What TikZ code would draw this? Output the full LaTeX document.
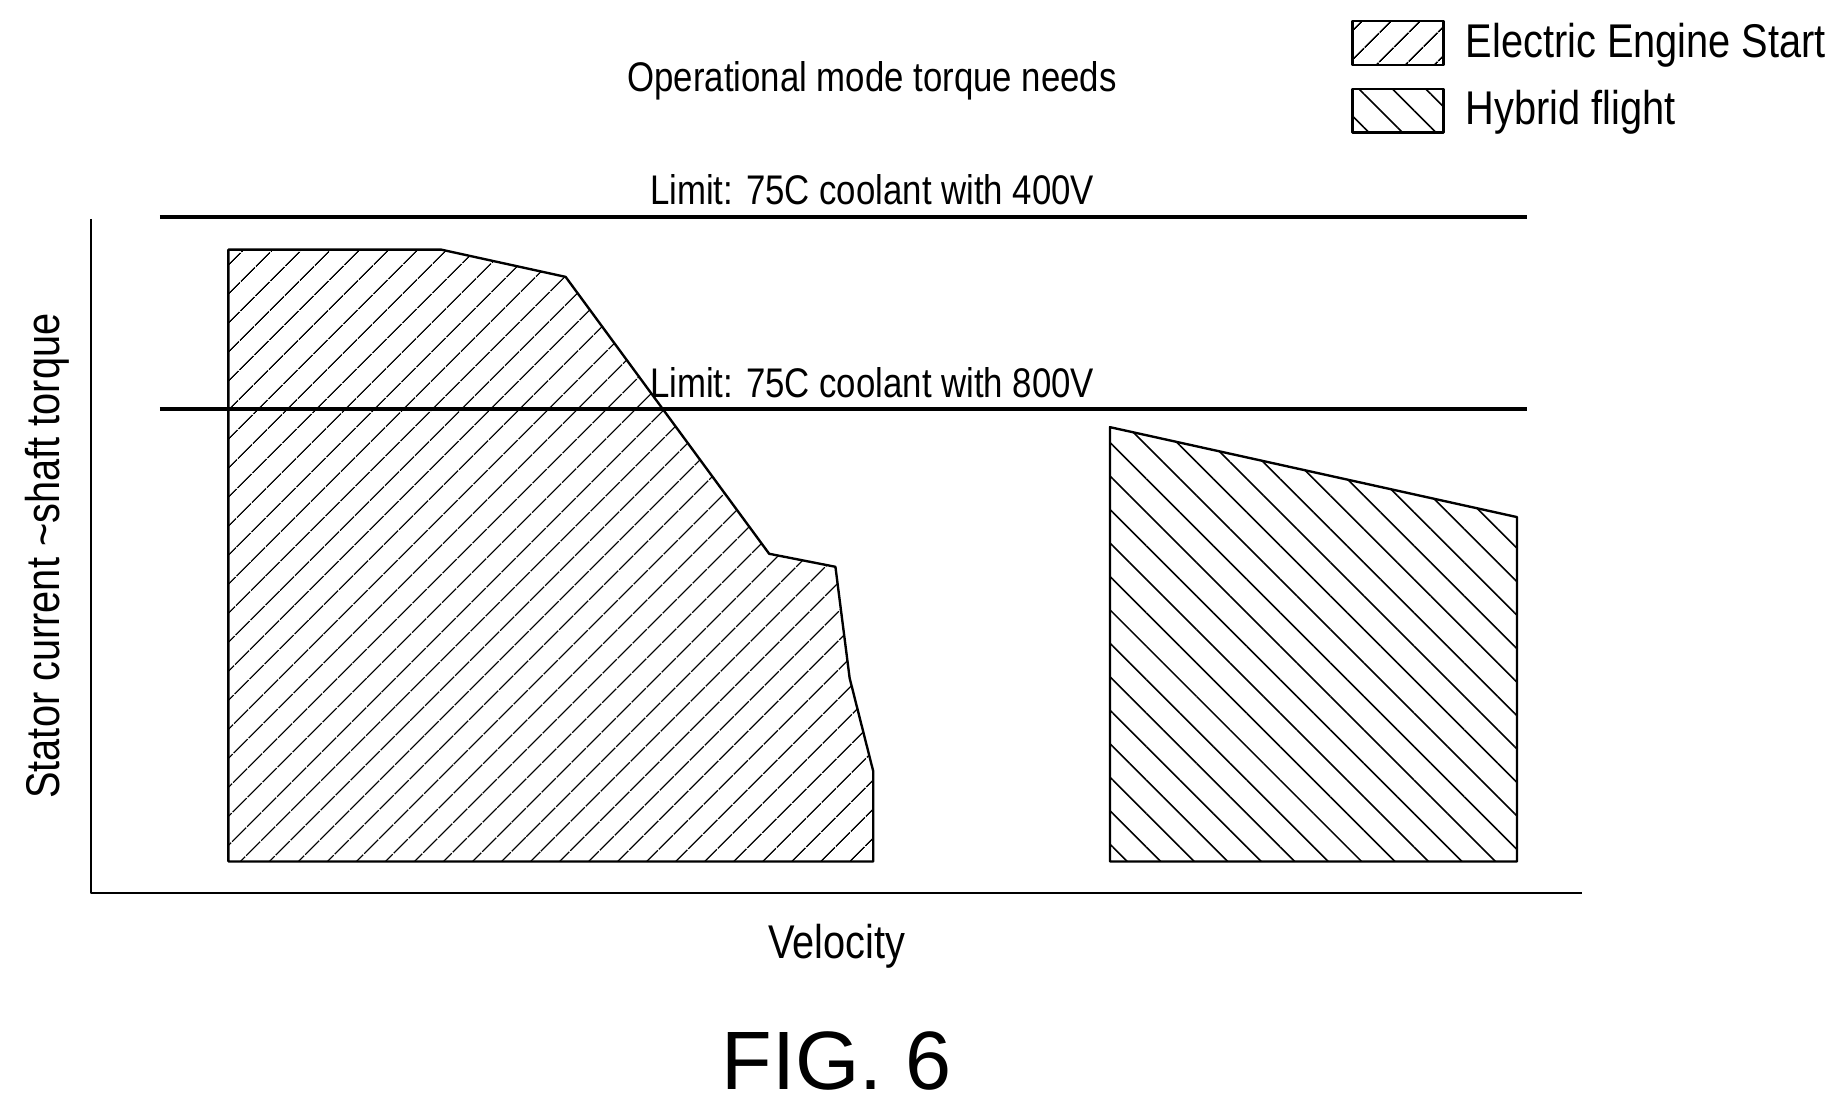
\documentclass[tikz,border=0pt]{standalone}
\usepackage{fontspec}
\setmainfont[FakeStretch=0.84]{Liberation Sans}
\newfontfamily\figfont{Liberation Sans}
\usetikzlibrary{patterns.meta}

\begin{document}
\begin{tikzpicture}[x=0.3pt, y=-0.3pt, line join=round,
      every node/.append style={font=\fontsize{10.5}{12}\selectfont, inner sep=0pt},
      limit/.style={line width=1pt},
      engine/.style={draw, line width=0.6pt, pattern={Lines[angle=45, distance=5.4pt, line width=0.4pt]}},
      hybrid/.style={draw, line width=0.6pt, pattern={Lines[angle=-45, distance=6pt, line width=0.4pt]}}]
    \useasboundingbox (0,0) rectangle (1560,935);
    \node (title) at (737,68) {Operational mode torque needs};
    % legend
    \draw[engine] (1143,18) rectangle (1220,55);
    \node (legEngine) [anchor=west, font=\fontsize{12}{14}\selectfont] at (1238,38) {Electric Engine Start};
    \draw[hybrid] (1143,75) rectangle (1220,112);
    \node (legHybrid) [anchor=west, font=\fontsize{12}{14}\selectfont] at (1238,95) {Hybrid flight};
    % axes
    \coordinate (origin) at (77,755);
    \coordinate (ytop) at (77,185);
    \coordinate (xend) at (1337,755);
    \draw[line width=0.5pt] (ytop) -- (origin) -- (xend);
    % operating regions
    \draw[engine] (193,211) -- (373,211) -- (478,234) -- (650,468) -- (706,479)
      -- (718,573) -- (738,652) -- (738,728) -- (193,728) -- cycle;
    \draw[hybrid] (938,361) -- (1282,437) -- (1282,728) -- (938,728) -- cycle;
    % limits
    \coordinate (lim4a) at (135,183);
    \coordinate (lim4b) at (1290,183);
    \coordinate (lim8a) at (135,346);
    \coordinate (lim8b) at (1290,346);
    \draw[limit] (lim4a) -- (lim4b);
    \draw[limit] (lim8a) -- (lim8b);
    \node (lim400) at (737,160) {Limit: 75C coolant with 400V};
    \node (lim800) at (737,323) {Limit: 75C coolant with 800V};
    % labels
    \node (velocity) [font=\fontsize{12}{14}\selectfont] at (707,800) {Velocity};
    \node (stator) [rotate=90, font=\fontsize{12}{14}\selectfont] at (40,470) {Stator current \textasciitilde shaft torque};
    \node (fig) [font=\figfont\fontsize{21}{24}\selectfont] at (707,897) {FIG. 6};
\end{tikzpicture}
\end{document}
